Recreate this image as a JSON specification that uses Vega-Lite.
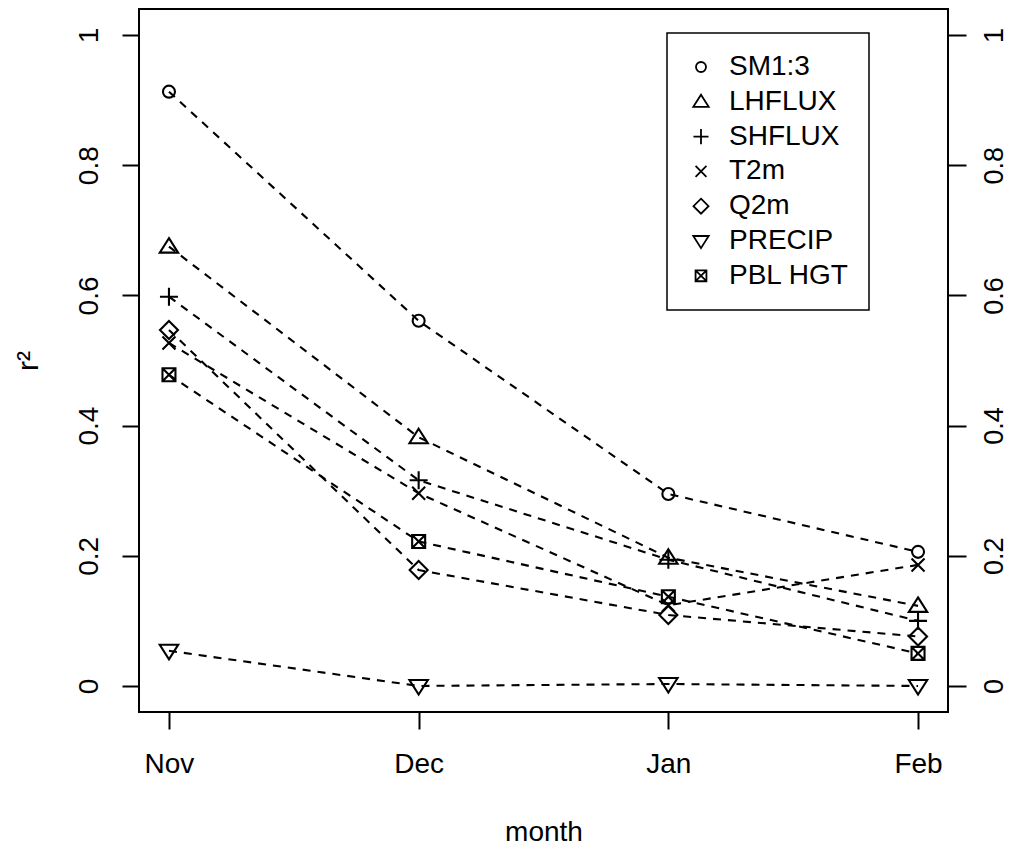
{
  "$schema": "https://vega.github.io/schema/vega-lite/v6.json",
  "width": 809,
  "height": 703,
  "autosize": {"type": "none"},
  "padding": {"left": 139, "top": 9, "right": 61, "bottom": 134},
  "background": "white",
  "config": {
    "font": "Liberation Sans",
    "view": {"stroke": "black", "strokeWidth": 2},
    "legend": {"strokeWidth": 1.5}
  },
  "data": {
    "values": [
      {"month": "Nov", "series": "SM1:3", "r2": 0.913},
      {"month": "Dec", "series": "SM1:3", "r2": 0.561},
      {"month": "Jan", "series": "SM1:3", "r2": 0.295},
      {"month": "Feb", "series": "SM1:3", "r2": 0.206},
      {"month": "Nov", "series": "LHFLUX", "r2": 0.675},
      {"month": "Dec", "series": "LHFLUX", "r2": 0.382},
      {"month": "Jan", "series": "LHFLUX", "r2": 0.197},
      {"month": "Feb", "series": "LHFLUX", "r2": 0.123},
      {"month": "Nov", "series": "SHFLUX", "r2": 0.598},
      {"month": "Dec", "series": "SHFLUX", "r2": 0.316},
      {"month": "Jan", "series": "SHFLUX", "r2": 0.194},
      {"month": "Feb", "series": "SHFLUX", "r2": 0.100},
      {"month": "Nov", "series": "T2m", "r2": 0.527},
      {"month": "Dec", "series": "T2m", "r2": 0.296},
      {"month": "Jan", "series": "T2m", "r2": 0.124},
      {"month": "Feb", "series": "T2m", "r2": 0.186},
      {"month": "Nov", "series": "Q2m", "r2": 0.547},
      {"month": "Dec", "series": "Q2m", "r2": 0.178},
      {"month": "Jan", "series": "Q2m", "r2": 0.109},
      {"month": "Feb", "series": "Q2m", "r2": 0.076},
      {"month": "Nov", "series": "PRECIP", "r2": 0.054},
      {"month": "Dec", "series": "PRECIP", "r2": 0.0},
      {"month": "Jan", "series": "PRECIP", "r2": 0.003},
      {"month": "Feb", "series": "PRECIP", "r2": 0.0},
      {"month": "Nov", "series": "PBL HGT", "r2": 0.478},
      {"month": "Dec", "series": "PBL HGT", "r2": 0.222},
      {"month": "Jan", "series": "PBL HGT", "r2": 0.137},
      {"month": "Feb", "series": "PBL HGT", "r2": 0.050}
    ]
  },
  "encoding": {
    "x": {
      "field": "month",
      "type": "ordinal",
      "sort": ["Nov", "Dec", "Jan", "Feb"],
      "scale": {"type": "point", "padding": 0.12},
      "axis": {
        "title": "month",
        "domain": false,
        "grid": false,
        "ticks": true,
        "tickSize": 17,
        "tickWidth": 2,
        "tickColor": "black",
        "labelAngle": 0,
        "labelFontSize": 28,
        "labelColor": "black",
        "labelBaseline": "top",
        "labelPadding": 21,
        "titleFontSize": 28,
        "titleFontWeight": "normal",
        "titleColor": "black",
        "titleBaseline": "alphabetic",
        "titleY": 128
      }
    }
  },
  "layer": [
    {
      "mark": {"type": "line", "stroke": "black", "strokeWidth": 2.1, "strokeDash": [8, 7]},
      "encoding": {
        "y": {
          "field": "r2",
          "type": "quantitative",
          "scale": {"domain": [-0.04, 1.04], "nice": false, "zero": false},
          "axis": {
            "orient": "left",
            "title": "r²",
            "values": [0, 0.2, 0.4, 0.6, 0.8, 1],
            "format": "~g",
            "domain": false,
            "grid": false,
            "tickSize": 17,
            "tickWidth": 2,
            "tickColor": "black",
            "labelAngle": -90,
            "labelAlign": "center",
            "labelBaseline": "alphabetic",
            "labelPadding": 25,
            "labelFontSize": 28,
            "labelColor": "black",
            "titleFontSize": 30,
            "titleFontWeight": "normal",
            "titleColor": "black",
            "titleAngle": -90,
            "titleAlign": "center",
            "titleBaseline": "alphabetic",
            "titleX": -102
          }
        },
        "detail": {"field": "series"}
      }
    },
    {
      "mark": {"type": "point", "filled": false, "stroke": "black", "strokeWidth": 2.1, "size": 400, "opacity": 1},
      "encoding": {
        "y": {
          "field": "r2",
          "type": "quantitative",
          "scale": {"domain": [-0.04, 1.04], "nice": false, "zero": false},
          "axis": {
            "orient": "right",
            "title": null,
            "values": [0, 0.2, 0.4, 0.6, 0.8, 1],
            "format": "~g",
            "domain": false,
            "grid": false,
            "tickSize": 18,
            "tickWidth": 2,
            "tickColor": "black",
            "labelAngle": -90,
            "labelAlign": "center",
            "labelBaseline": "top",
            "labelPadding": 15,
            "labelFontSize": 27,
            "labelColor": "black"
          }
        },
        "shape": {
          "field": "series",
          "type": "nominal",
          "scale": {
            "domain": ["SM1:3", "LHFLUX", "SHFLUX", "T2m", "Q2m", "PRECIP", "PBL HGT"],
            "range": [
              "M0.6,0A0.6,0.6,0,1,1,-0.6,0A0.6,0.6,0,1,1,0.6,0Z",
              "M0,-0.85L0.92,0.6L-0.92,0.6Z",
              "M-0.9,0L0.9,0M0,-0.9L0,0.9",
              "M-0.65,-0.65L0.65,0.65M-0.65,0.65L0.65,-0.65",
              "M0,-0.9L0.9,0L0,0.9L-0.9,0Z",
              "M0,0.85L0.92,-0.6L-0.92,-0.6Z",
              "M-0.65,-0.65L0.65,-0.65L0.65,0.65L-0.65,0.65ZM-0.65,-0.65L0.65,0.65M-0.65,0.65L0.65,-0.65"
            ]
          },
          "legend": {
            "orient": "none",
            "legendX": 528,
            "legendY": 24,
            "title": null,
            "padding": 20,
            "strokeColor": "black",
            "fillColor": "white",
            "labelFontSize": 28,
            "labelColor": "black",
            "labelOffset": 14,
            "rowPadding": 6.8,
            "symbolSize": 280,
            "symbolStrokeWidth": 1.8,
            "symbolStrokeColor": "black",
            "symbolFillColor": "transparent"
          }
        }
      }
    }
  ],
  "resolve": {"axis": {"y": "independent"}}
}
